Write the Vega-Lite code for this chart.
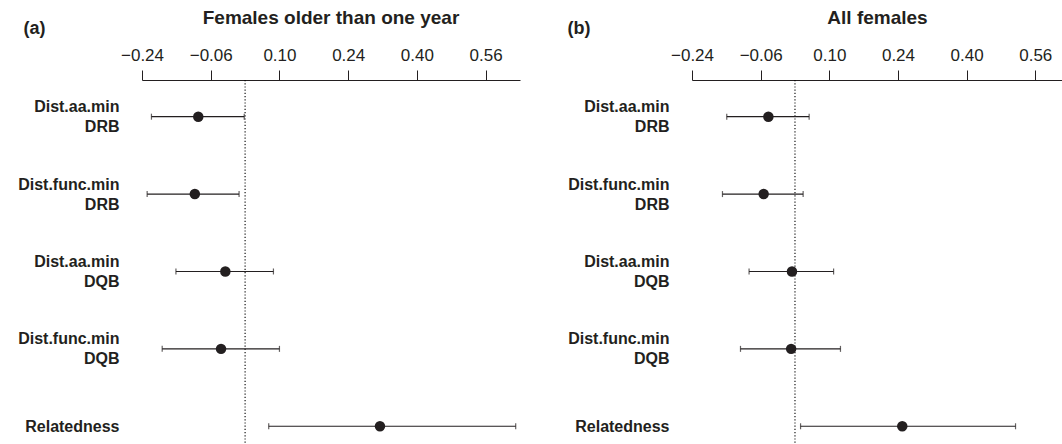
{
  "$schema": "https://vega.github.io/schema/vega-lite/v6.json",
  "padding": {"left": 17, "top": 9, "right": 0, "bottom": 0},
  "background": "white",
  "config": {
    "view": {"stroke": null},
    "font": "Liberation Sans",
    "concat": {"spacing": 47}
  },
  "datasets": {
    "est": [
      {"panel": "a", "term": "Dist.aa.min DRB", "est": -0.109, "lo": -0.218, "hi": -0.002},
      {"panel": "a", "term": "Dist.func.min DRB", "est": -0.117, "lo": -0.228, "hi": -0.014},
      {"panel": "a", "term": "Dist.aa.min DQB", "est": -0.046, "lo": -0.161, "hi": 0.066},
      {"panel": "a", "term": "Dist.func.min DQB", "est": -0.056, "lo": -0.193, "hi": 0.080},
      {"panel": "a", "term": "Relatedness", "est": 0.314, "lo": 0.055, "hi": 0.630},
      {"panel": "b", "term": "Dist.aa.min DRB", "est": -0.062, "lo": -0.159, "hi": 0.033},
      {"panel": "b", "term": "Dist.func.min DRB", "est": -0.073, "lo": -0.169, "hi": 0.019},
      {"panel": "b", "term": "Dist.aa.min DQB", "est": -0.007, "lo": -0.107, "hi": 0.090},
      {"panel": "b", "term": "Dist.func.min DQB", "est": -0.009, "lo": -0.127, "hi": 0.106},
      {"panel": "b", "term": "Relatedness", "est": 0.250, "lo": 0.013, "hi": 0.514}
    ],
    "zero": [{"z": 0}]
  },
  "hconcat": [
    {
      "width": 378,
      "height": 365,
      "title": {"text": "Females older than one year", "fontSize": 19, "fontWeight": "bold", "color": "#231f20", "anchor": "middle", "dy": 13},
      "layer": [
        {
          "data": {"name": "zero"},
          "mark": {"type": "rule", "strokeDash": [1.2, 2], "color": "#000000", "strokeWidth": 1.1},
          "encoding": {
            "x": {"field": "z", "type": "quantitative", "scale": {"domain": [-0.24, 0.64], "nice": false, "zero": false},
              "axis": {"orient": "top", "title": null, "grid": false,
                "values": [-0.24, -0.16, -0.08, 0, 0.08, 0.16, 0.24, 0.32, 0.4, 0.48, 0.56, 0.64],
                "labelExpr": "abs(datum.value+0.24)<0.001 ? '−0.24' : abs(datum.value+0.08)<0.001 ? '−0.06' : abs(datum.value)<0.001 ? '0' : abs(datum.value-0.08)<0.001 ? '0.10' : abs(datum.value-0.24)<0.001 ? '0.24' : abs(datum.value-0.4)<0.001 ? '0.40' : abs(datum.value-0.56)<0.001 ? '0.56' : ''",
                "labelOverlap": false, "labelFlush": false, "labelFontSize": 17, "labelColor": "#231f20", "labelPadding": 6,
                "tickSize": 10, "tickColor": "#231f20", "domainColor": "#231f20", "tickWidth": 1, "domainWidth": 1}}
          }
        },
        {
          "data": {"name": "est"},
          "transform": [{"filter": "datum.panel == 'a'"}],
          "encoding": {
            "y": {"field": "term", "type": "nominal",
              "sort": ["Dist.aa.min DRB", "Dist.func.min DRB", "Dist.aa.min DQB", "Dist.func.min DQB", "Relatedness"],
              "scale": {"type": "point", "padding": 0.358, "align": 0.662},
              "axis": {"title": "(a)", "titleAngle": 0, "titleX": -119, "titleY": -52, "titleAlign": "left", "titleBaseline": "middle",
                "titleFontSize": 18, "titleFontWeight": "bold", "titleColor": "#231f20",
                "labelExpr": "split(datum.label, ' ')", "labelFontSize": 16, "labelFontWeight": "bold", "labelLineHeight": 20,
                "labelOffset": {"condition": {"test": "datum.value == 'Relatedness'", "value": 0}, "value": -10},
                "labelColor": "#231f20", "labelPadding": 23, "ticks": false, "domain": false, "labelAlign": "right", "labelBaseline": "middle"}}
          },
          "layer": [
            {"mark": {"type": "rule", "color": "#231f20", "strokeWidth": 1.2},
             "encoding": {"x": {"field": "lo", "type": "quantitative"}, "x2": {"field": "hi"}}},
            {"mark": {"type": "tick", "color": "#231f20", "size": 6, "thickness": 1.2, "orient": "vertical"},
             "encoding": {"x": {"field": "lo", "type": "quantitative"}}},
            {"mark": {"type": "tick", "color": "#231f20", "size": 6, "thickness": 1.2, "orient": "vertical"},
             "encoding": {"x": {"field": "hi", "type": "quantitative"}}},
            {"mark": {"type": "circle", "color": "#231f20", "size": 110, "opacity": 1},
             "encoding": {"x": {"field": "est", "type": "quantitative"}}}
          ]
        }
      ]
    },
    {
      "width": 371,
      "height": 365,
      "title": {"text": "All females", "fontSize": 19, "fontWeight": "bold", "color": "#231f20", "anchor": "middle", "dy": 13},
      "layer": [
        {
          "data": {"name": "zero"},
          "mark": {"type": "rule", "strokeDash": [1.2, 2], "color": "#000000", "strokeWidth": 1.1},
          "encoding": {
            "x": {"field": "z", "type": "quantitative", "scale": {"domain": [-0.24, 0.6246], "nice": false, "zero": false},
              "axis": {"orient": "top", "title": null, "grid": false,
                "values": [-0.24, -0.16, -0.08, 0, 0.08, 0.16, 0.24, 0.32, 0.4, 0.48, 0.56],
                "labelExpr": "abs(datum.value+0.24)<0.001 ? '−0.24' : abs(datum.value+0.08)<0.001 ? '−0.06' : abs(datum.value)<0.001 ? '0' : abs(datum.value-0.08)<0.001 ? '0.10' : abs(datum.value-0.24)<0.001 ? '0.24' : abs(datum.value-0.4)<0.001 ? '0.40' : abs(datum.value-0.56)<0.001 ? '0.56' : ''",
                "labelOverlap": false, "labelFlush": false, "labelFontSize": 17, "labelColor": "#231f20", "labelPadding": 6,
                "tickSize": 10, "tickColor": "#231f20", "domainColor": "#231f20", "tickWidth": 1, "domainWidth": 1}}
          }
        },
        {
          "data": {"name": "est"},
          "transform": [{"filter": "datum.panel == 'b'"}],
          "encoding": {
            "y": {"field": "term", "type": "nominal",
              "sort": ["Dist.aa.min DRB", "Dist.func.min DRB", "Dist.aa.min DQB", "Dist.func.min DQB", "Relatedness"],
              "scale": {"type": "point", "padding": 0.358, "align": 0.662},
              "axis": {"title": "(b)", "titleAngle": 0, "titleX": -125, "titleY": -52, "titleAlign": "left", "titleBaseline": "middle",
                "titleFontSize": 18, "titleFontWeight": "bold", "titleColor": "#231f20",
                "labelExpr": "split(datum.label, ' ')", "labelFontSize": 16, "labelFontWeight": "bold", "labelLineHeight": 20,
                "labelOffset": {"condition": {"test": "datum.value == 'Relatedness'", "value": 0}, "value": -10},
                "labelColor": "#231f20", "labelPadding": 23, "ticks": false, "domain": false, "labelAlign": "right", "labelBaseline": "middle"}}
          },
          "layer": [
            {"mark": {"type": "rule", "color": "#231f20", "strokeWidth": 1.2},
             "encoding": {"x": {"field": "lo", "type": "quantitative"}, "x2": {"field": "hi"}}},
            {"mark": {"type": "tick", "color": "#231f20", "size": 6, "thickness": 1.2, "orient": "vertical"},
             "encoding": {"x": {"field": "lo", "type": "quantitative"}}},
            {"mark": {"type": "tick", "color": "#231f20", "size": 6, "thickness": 1.2, "orient": "vertical"},
             "encoding": {"x": {"field": "hi", "type": "quantitative"}}},
            {"mark": {"type": "circle", "color": "#231f20", "size": 110, "opacity": 1},
             "encoding": {"x": {"field": "est", "type": "quantitative"}}}
          ]
        }
      ]
    }
  ]
}
